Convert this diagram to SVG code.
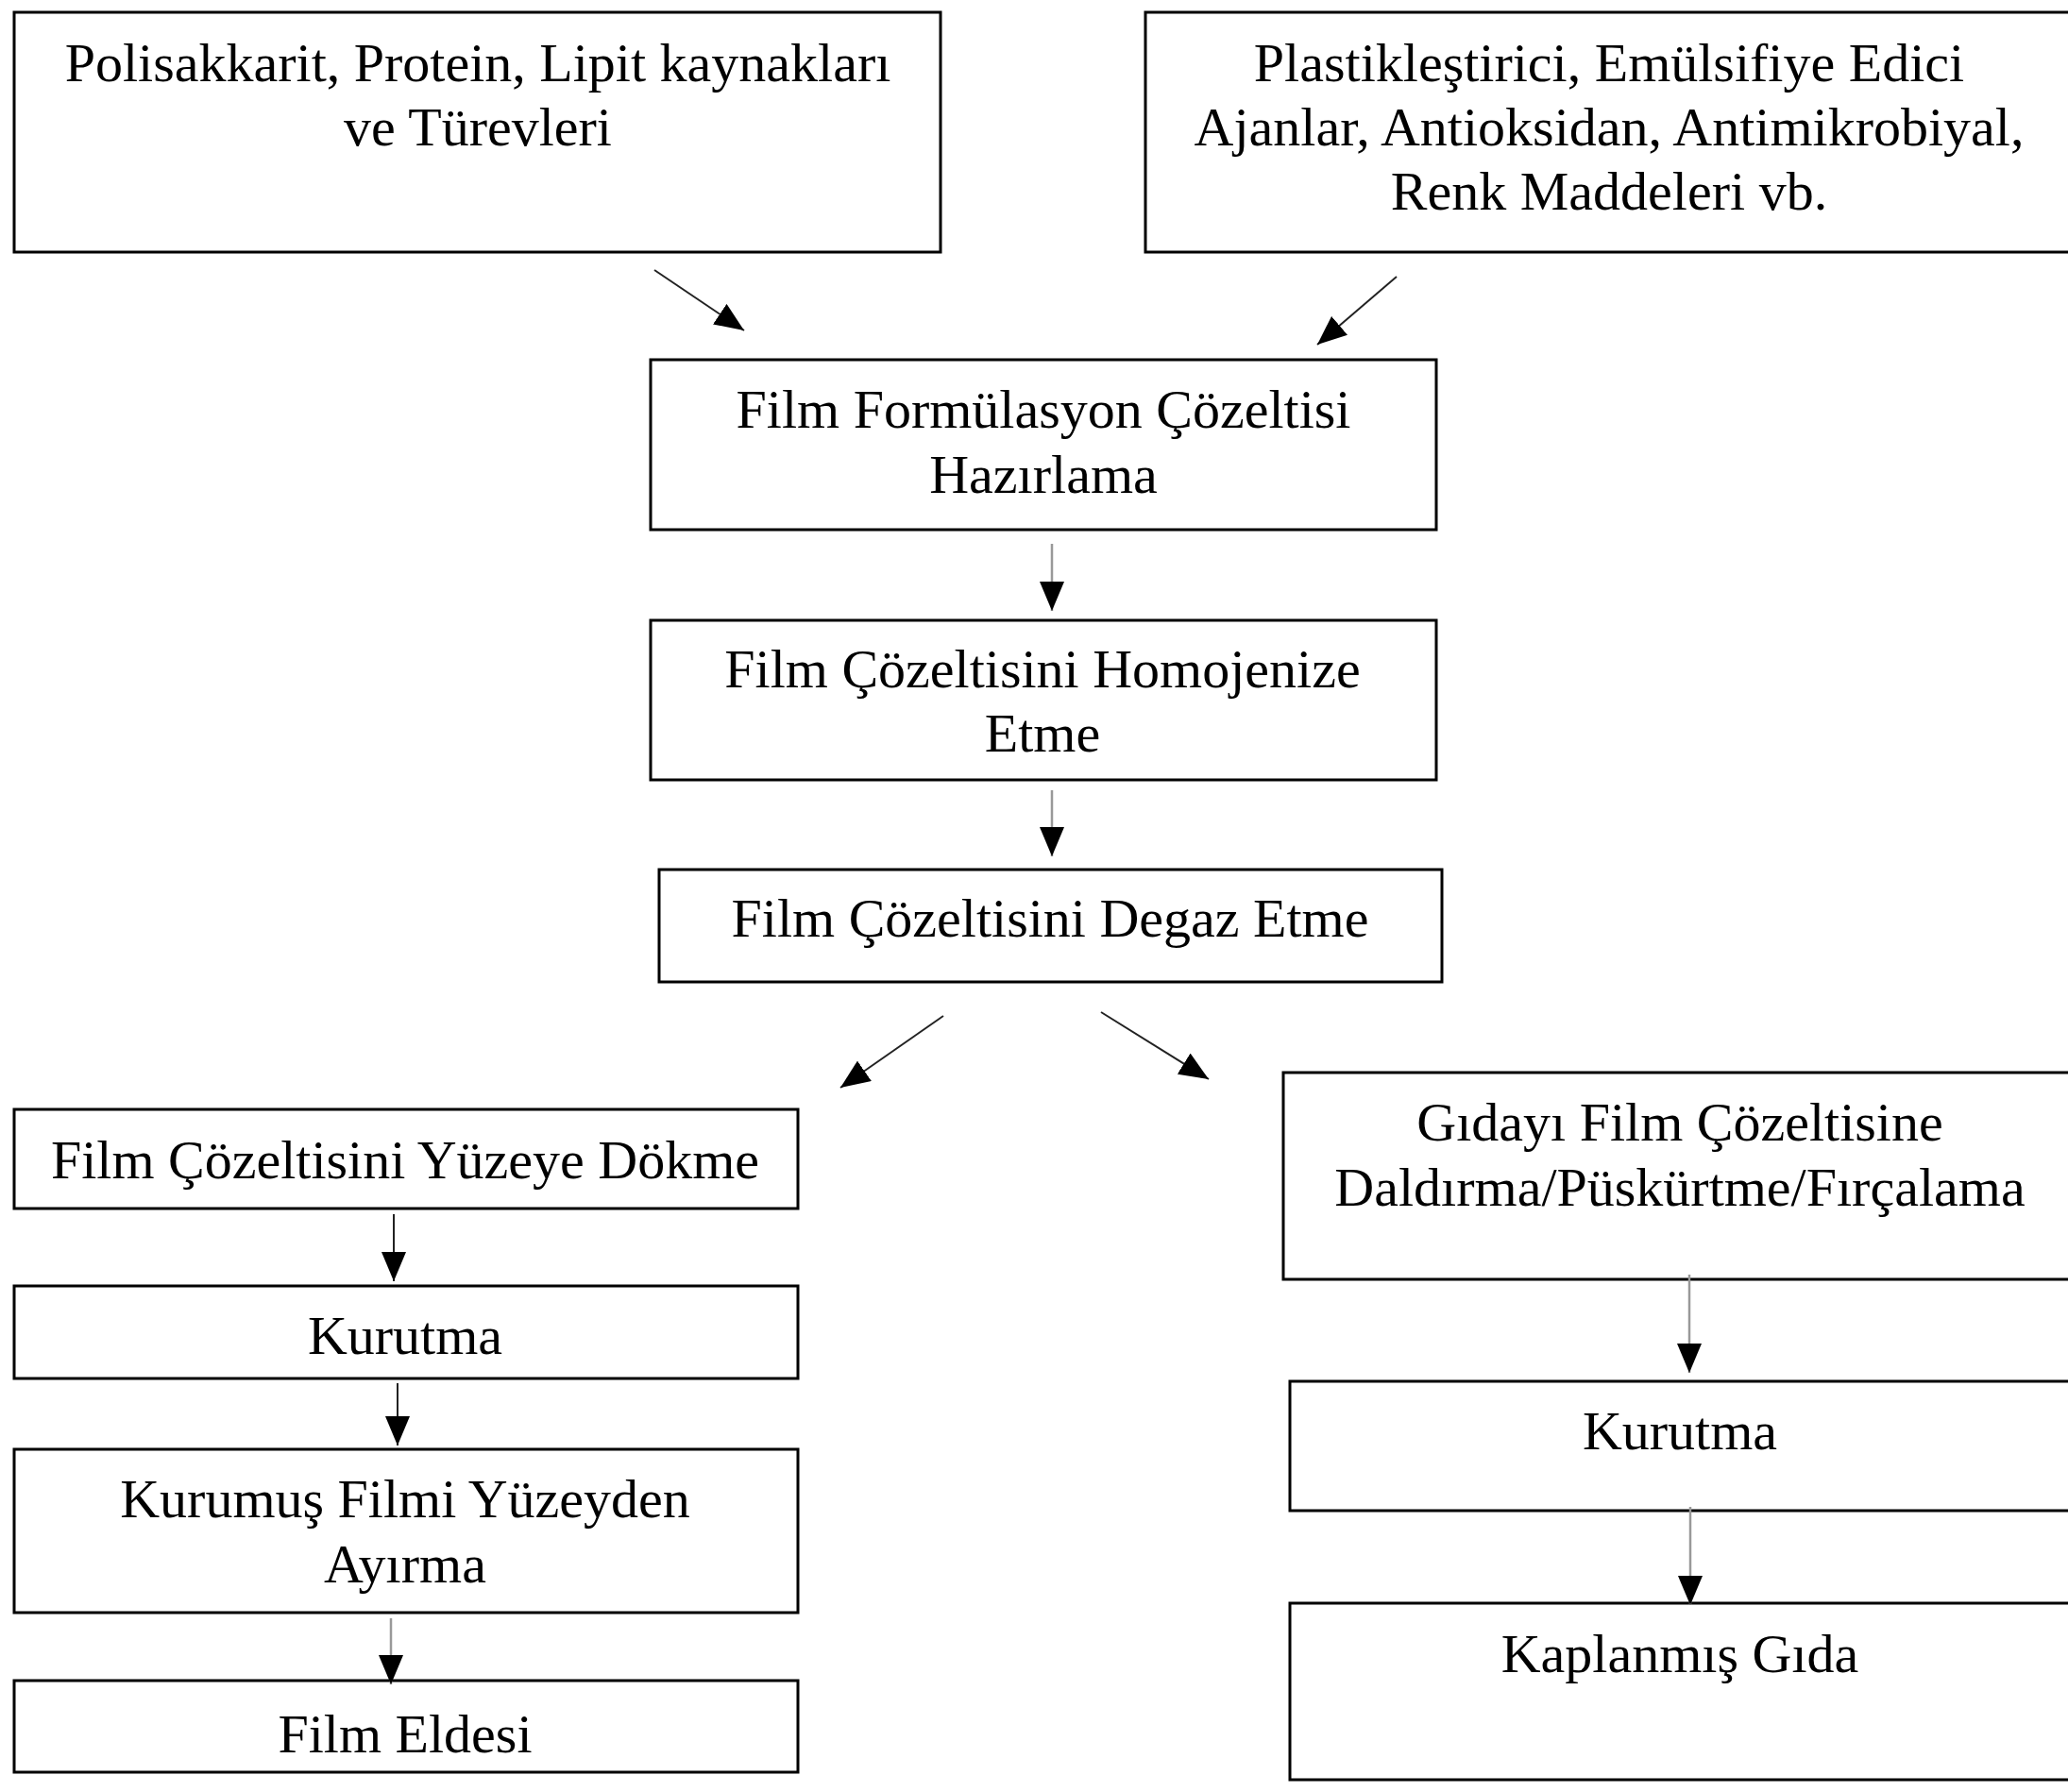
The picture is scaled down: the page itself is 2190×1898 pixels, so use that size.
<svg xmlns="http://www.w3.org/2000/svg" width="2190" height="1898" viewBox="0 0 2190 1898">
<defs>
<style>
.box{fill:#fff;stroke:#000;stroke-width:3}
.t{font-family:"Liberation Serif","Times New Roman",serif;font-size:58px;fill:#000;text-anchor:middle}
.c{fill:none;stroke:#222;stroke-width:2}
.g{fill:none;stroke:#999;stroke-width:2.5}
</style>
<marker id="ah" markerUnits="userSpaceOnUse" markerWidth="32" markerHeight="26" refX="31" refY="13" orient="auto">
<path d="M0,0 L31,13 L0,26 z" fill="#000"/>
</marker>
</defs>
<rect width="2190" height="1898" fill="#fff"/>
<g id="n1"><rect class="box" x="15" y="13" width="981" height="254"/>
<text class="t" x="506" y="86">Polisakkarit, Protein, Lipit kaynakları</text>
<text class="t" x="506" y="154">ve Türevleri</text></g>
<g id="n2"><rect class="box" x="1213" y="13" width="1000" height="254"/>
<text class="t" x="1704" y="86">Plastikleştirici, Emülsifiye Edici</text>
<text class="t" x="1704" y="154">Ajanlar, Antioksidan, Antimikrobiyal,</text>
<text class="t" x="1704" y="222">Renk Maddeleri vb.</text></g>
<g id="n3"><rect class="box" x="689" y="381" width="832" height="180"/>
<text class="t" x="1105" y="453">Film Formülasyon Çözeltisi</text>
<text class="t" x="1105" y="522">Hazırlama</text></g>
<g id="n4"><rect class="box" x="689" y="657" width="832" height="169"/>
<text class="t" x="1104" y="728">Film Çözeltisini Homojenize</text>
<text class="t" x="1104" y="796">Etme</text></g>
<g id="n5"><rect class="box" x="698" y="921" width="829" height="119"/>
<text class="t" x="1112" y="992">Film Çözeltisini Degaz Etme</text></g>
<g id="n6"><rect class="box" x="15" y="1175" width="830" height="105"/>
<text class="t" x="429" y="1248">Film Çözeltisini Yüzeye Dökme</text></g>
<g id="n7"><rect class="box" x="15" y="1362" width="830" height="98"/>
<text class="t" x="429" y="1434">Kurutma</text></g>
<g id="n8"><rect class="box" x="15" y="1535" width="830" height="173"/>
<text class="t" x="429" y="1607">Kurumuş Filmi Yüzeyden</text>
<text class="t" x="429" y="1676">Ayırma</text></g>
<g id="n9"><rect class="box" x="15" y="1780" width="830" height="97"/>
<text class="t" x="429" y="1856">Film Eldesi</text></g>
<g id="n10"><rect class="box" x="1359" y="1136" width="850" height="219"/>
<text class="t" x="1779" y="1208">Gıdayı Film Çözeltisine</text>
<text class="t" x="1779" y="1277">Daldırma/Püskürtme/Fırçalama</text></g>
<g id="n11"><rect class="box" x="1366" y="1463" width="840" height="137"/>
<text class="t" x="1779" y="1535">Kurutma</text></g>
<g id="n12"><rect class="box" x="1366" y="1698" width="840" height="187"/>
<text class="t" x="1779" y="1771">Kaplanmış Gıda</text></g>
<g id="connectors">
<line class="c" x1="693" y1="286" x2="788" y2="350" marker-end="url(#ah)"/>
<line class="c" x1="1479" y1="293" x2="1395" y2="365" marker-end="url(#ah)"/>
<line class="g" x1="1114" y1="576" x2="1114" y2="647" marker-end="url(#ah)"/>
<line class="g" x1="1114" y1="837" x2="1114" y2="907" marker-end="url(#ah)"/>
<line class="c" x1="999" y1="1076" x2="890" y2="1152" marker-end="url(#ah)"/>
<line class="c" x1="1166" y1="1072" x2="1280" y2="1143" marker-end="url(#ah)"/>
<line class="c" x1="417" y1="1286" x2="417" y2="1357" marker-end="url(#ah)"/>
<line class="c" x1="421" y1="1465" x2="421" y2="1531" marker-end="url(#ah)"/>
<line class="g" x1="414" y1="1714" x2="414" y2="1784" marker-end="url(#ah)"/>
<line class="g" x1="1789" y1="1350" x2="1789" y2="1454" marker-end="url(#ah)"/>
<line class="g" x1="1790" y1="1596" x2="1790" y2="1700" marker-end="url(#ah)"/>
</g>
</svg>
